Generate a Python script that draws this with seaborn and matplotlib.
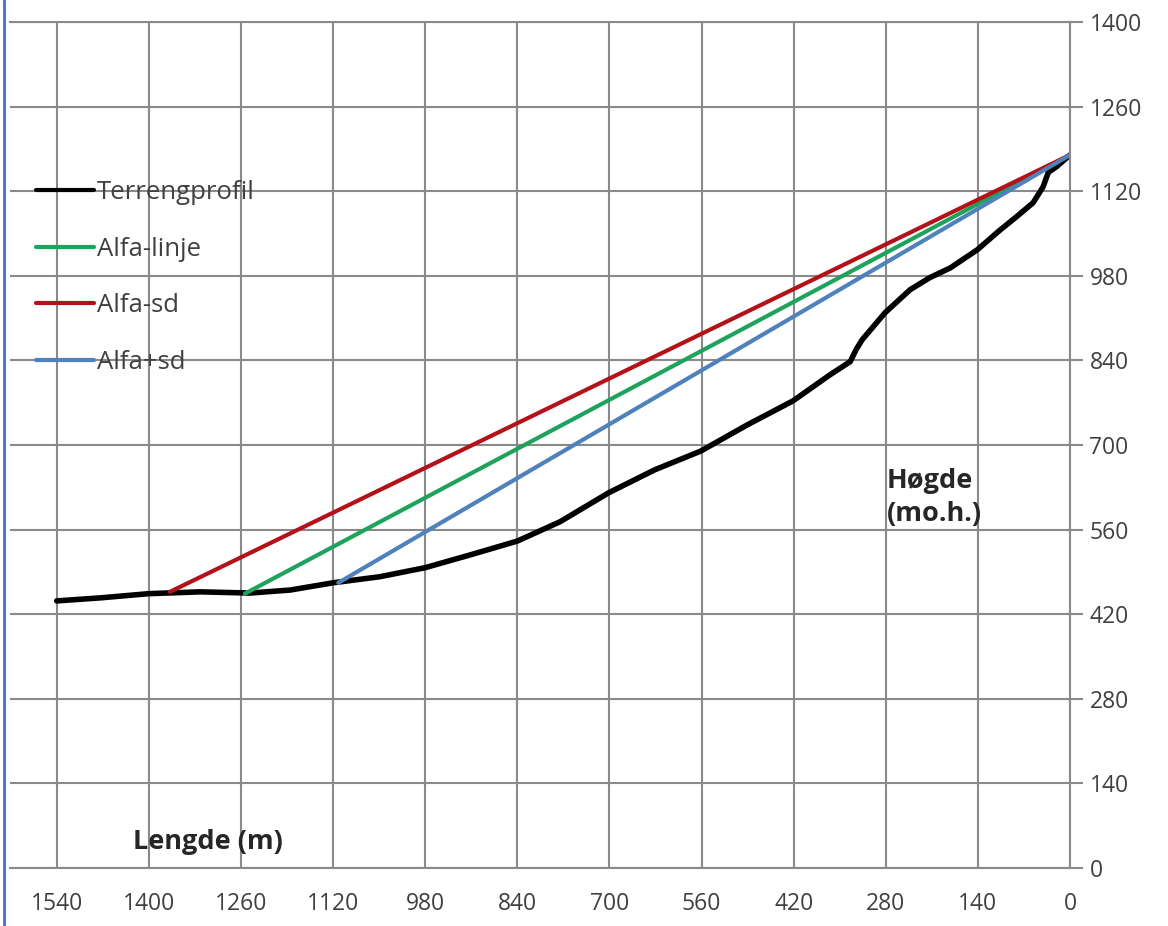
import numpy as np
import pandas as pd
import matplotlib.pyplot as plt
import matplotlib.lines as mlines
import seaborn as sns

# Terrain profile (length from top in m, height in m a.s.l.)
terrain_x = [1540, 1474, 1400, 1322, 1246, 1185, 1120, 1049, 980, 912, 840, 775,
             701, 631, 561, 491, 421, 365, 334, 325, 316, 281, 243, 213, 182,
             141, 106, 81, 56, 41, 33, 20, 0]
terrain_y = [442, 447, 454, 457, 455, 460, 472, 482, 497, 518, 541, 573,
             621, 659, 690, 733, 773, 816, 838, 858, 874, 919, 957, 977, 993,
             1023, 1056, 1078, 1101, 1127, 1151, 1161, 1180]

# Alfa lines: straight from top point down to the stop point
alfa_x = [1254, 0]
alfa_y = [454, 1180]
alfa_minus_x = [1368, 0]
alfa_minus_y = [457, 1180]
alfa_plus_x = [1112, 0]
alfa_plus_y = [472, 1180]

x_ticks = [1540, 1400, 1260, 1120, 980, 840, 700, 560, 420, 280, 140, 0]
y_ticks = [0, 140, 280, 420, 560, 700, 840, 980, 1120, 1260, 1400]

sns.set_style("white")
plt.rcParams['font.family'] = ['Open Sans', 'DejaVu Sans']

fig = plt.figure(figsize=(11.68, 9.26), dpi=100)
ax = fig.add_axes([10 / 1168, 1 - 868 / 926, 1060 / 1168, 846 / 926])

terrain = pd.DataFrame({"x": terrain_x, "y": terrain_y})
sns.lineplot(data=terrain, x="x", y="y", sort=False, color="black", lw=4, ax=ax,
             label="Terrengprofil")
sns.lineplot(x=alfa_x, y=alfa_y, sort=False, color="#1fa35c", lw=3, ax=ax,
             label="Alfa-linje")
sns.lineplot(x=alfa_minus_x, y=alfa_minus_y, sort=False, color="#b3121b", lw=3, ax=ax,
             label="Alfa-sd")
sns.lineplot(x=alfa_plus_x, y=alfa_plus_y, sort=False, color="#4f81bd", lw=3, ax=ax,
             label="Alfa+sd")

ax.set_xlim(1611, 0)
ax.set_ylim(0, 1400)
ax.set_xticks(x_ticks)
ax.set_yticks(y_ticks)
ax.yaxis.tick_right()
ax.grid(True, color="#8a8a8a", lw=1.5)
ax.set_axisbelow(True)
ax.spines["left"].set_visible(False)
for side in ["top", "right", "bottom"]:
    ax.spines[side].set_color("#8a8a8a")
    ax.spines[side].set_linewidth(1.5)
ax.tick_params(axis="both", colors="#8a8a8a", length=9, width=1.5,
               labelcolor="#404040", labelsize=16.5)
ax.tick_params(axis="y", pad=5)
ax.tick_params(axis="x", pad=8)
ax.set_xlabel("")
ax.set_ylabel("")

leg = ax.legend(loc="upper left", bbox_to_anchor=(0.003, 0.84), frameon=False,
                fontsize=18.5, handlelength=2.25, handletextpad=0.1, labelspacing=1.22,
                labelcolor="#404040")
for line in leg.get_lines():
    line.set_linewidth(3)

ax.text(278, 662, "Høgde\n(mo.h.)", fontsize=19.5, fontweight="bold", color="#262626",
        va="top", ha="left", linespacing=1.35)
ax.text(1424, 43, "Lengde (m)", fontsize=19.5, fontweight="bold", color="#262626",
        va="center", ha="left")

fig.add_artist(mlines.Line2D([0.003, 0.003], [0, 1], color="#4472c4", lw=2,
                             transform=fig.transFigure))

fig.savefig("out.png", dpi=100)
